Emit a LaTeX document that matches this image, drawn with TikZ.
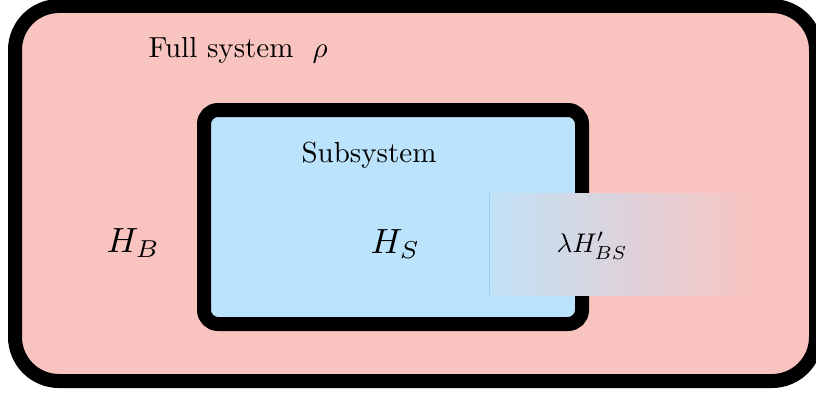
\documentclass[tikz,border=0pt]{standalone}
\definecolor{fullpink}{RGB}{249,196,191}
\definecolor{subblue}{RGB}{187,227,252}
\definecolor{mixleft}{RGB}{193,225,246}
\definecolor{mixright}{RGB}{247,197,194}
\definecolor{edgeblue}{RGB}{150,205,240}
\tikzset{
  systembox/.style={draw=black, line width=14pt, fill=fullpink, rounded corners=44pt,
    inner sep=0pt, outer sep=0pt},
  subbox/.style={draw=black, line width=14pt, fill=subblue, rounded corners=14pt,
    inner sep=0pt, outer sep=0pt},
  couplingbox/.style={draw=none, left color=mixleft, right color=mixright,
    inner sep=0pt, outer sep=0pt},
  labeltext/.style={inner sep=0pt, anchor=base west, font=\fontsize{10}{12}\selectfont,
    scale=2.9},
  mathtext/.style={inner sep=0pt, anchor=base west, font=\fontsize{10}{12}\selectfont,
    scale=3.5},
}
\begin{document}
\begin{tikzpicture}[x=1pt,y=-1pt]
\useasboundingbox (0,0) rectangle (816,396);
% full system and embedded subsystem
\node[systembox, minimum width=801pt, minimum height=375pt] (full) at (415.5,193.5) {};
\node[subbox, minimum width=378pt, minimum height=214pt] (sub) at (393,217) {};
% coupling region straddling the subsystem boundary
\node[couplingbox, minimum width=261pt, minimum height=102pt] (coup) at (619.5,244) {};
\draw[edgeblue, line width=1pt] (coup.north west) -- (coup.south west);
% labels
\node[labeltext] (fulltxt) at (148,57) {Full system};
\node[labeltext] (rho) at (312,57) {$\rho$};
\node[labeltext] (subtxt) at (301,162) {Subsystem};
\node[mathtext] (hb) at (106,252) {$H_B$};
\node[mathtext] (hs) at (370,253) {$H_S$};
\node[mathtext, scale=0.77] (hbs) at (556,252) {$\lambda H'_{BS}$};
\end{tikzpicture}
\end{document}
